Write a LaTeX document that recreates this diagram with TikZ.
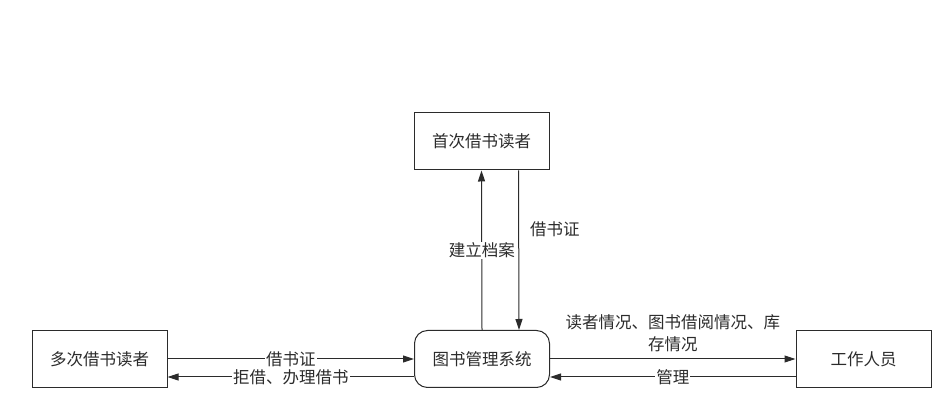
\documentclass[tikz,border=0pt]{standalone}
\usepackage{fontspec}
\newfontfamily\cjk{Noto Sans CJK SC}
\usetikzlibrary{arrows.meta, positioning}
\definecolor{mLine}{HTML}{2B2B2B}

\begin{document}
\begin{tikzpicture}[x=1pt, y=1pt,
    every node/.style={font=\cjk\fontsize{16.5}{20}\selectfont, text=mLine},
    entity/.style={draw=mLine, line width=1pt, minimum width=135pt, minimum height=57pt, inner sep=0pt},
    flow/.style={draw=mLine, line width=1pt, -{Triangle[length=11pt, width=7pt]}},
    lbl/.style={fill=white, inner sep=1pt}]
    \useasboundingbox (0,0) rectangle (932,417);
    \node[entity] (shouci) at (481.5,275.5) {首次借书读者};
    \node[entity, rounded corners=13pt] (xitong) at (482,58) {图书管理系统};
    \node[entity] (duoci) at (99.5,58) {多次借书读者};
    \node[entity] (gongzuo) at (863.5,58) {工作人员};
    \draw[flow] (xitong.north) -- node[lbl] {建立档案} (shouci.south);
    \draw[flow] ([xshift=37pt]shouci.south) -- node[pos=0.37, right=11pt, inner sep=0pt] {借书证} ([xshift=37pt]xitong.north);
    \draw[flow] (duoci.east) -- node[lbl] {借书证} (xitong.west);
    \draw[flow] ([yshift=-18pt]xitong.west) -- node[lbl] {拒借、办理借书} ([yshift=-18pt]duoci.east);
    \draw[flow] (xitong.east) -- node[above=3pt, align=center, font=\cjk\fontsize{16.5}{22}\selectfont] {读者情况、图书借阅情况、库\\存情况} (gongzuo.west);
    \draw[flow] ([yshift=-18pt]gongzuo.west) -- node[lbl] {管理} ([yshift=-18pt]xitong.east);
\end{tikzpicture}
\end{document}
